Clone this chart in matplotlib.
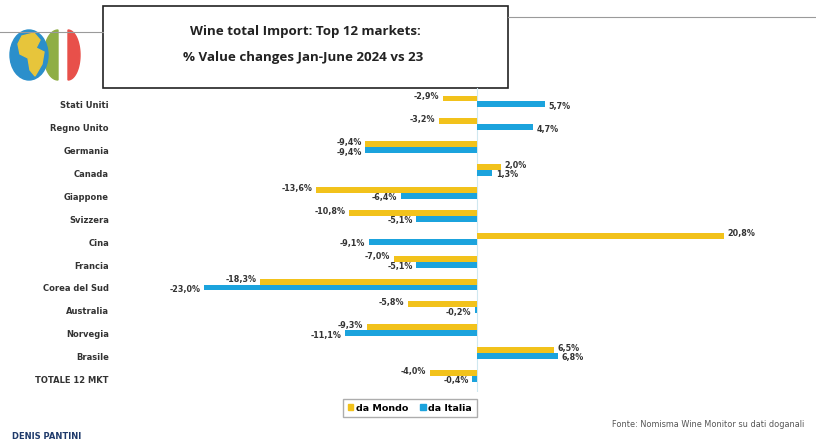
import matplotlib.pyplot as plt
import matplotlib.patches as mpatches
from matplotlib.patches import Rectangle, Ellipse, Polygon
import numpy as np

cats = ["Stati Uniti", "Regno Unito", "Germania", "Canada", "Giappone", "Svizzera",
        "Cina", "Francia", "Corea del Sud", "Australia", "Norvegia", "Brasile",
        "TOTALE 12 MKT"]
da_mondo = [-2.9, -3.2, -9.4, 2.0, -13.6, -10.8, 20.8, -7.0, -18.3, -5.8, -9.3, 6.5, -4.0]
da_italia = [5.7, 4.7, -9.4, 1.3, -6.4, -5.1, -9.1, -5.1, -23.0, -0.2, -11.1, 6.8, -0.4]

YEL = "#F2C21B"
BLU = "#1BA3DD"
W, H = 816, 444

fig = plt.figure(figsize=(W / 100, H / 100), dpi=100)

# decoration layer in pixel coordinates
bg = fig.add_axes([0, 0, 1, 1])
bg.set_xlim(0, W)
bg.set_ylim(H, 0)
bg.axis("off")

# header lines
bg.plot([0, 103], [32, 32], color="#9a9a9a", lw=0.8)
bg.plot([508, 816], [17, 17], color="#9a9a9a", lw=0.8)

# logo: globe + green and red half ellipses
t = np.linspace(-np.pi / 2, np.pi / 2, 40)
bg.add_patch(Polygon(np.c_[58 - 14 * np.cos(t), 55 + 25 * np.sin(t)], color="#8FAE45"))
bg.add_patch(Polygon(np.c_[68 + 12 * np.cos(t), 55 + 25 * np.sin(t)], color="#E8504A"))
bg.add_patch(Ellipse((29, 55), 38, 50, color="#2B8FCB"))
bg.add_patch(Polygon([(22, 36), (34, 33), (40, 40), (36, 48), (44, 52), (42, 64),
                      (35, 76), (30, 70), (28, 58), (20, 54), (18, 44)],
                     closed=True, color="#E7C53B"))

# title box
tfont = ["Liberation Sans Narrow", "Open Sans"]
bg.add_patch(Rectangle((103, 6), 405, 82, fill=False, ec="#222222", lw=1.2))
bg.text(305, 32, "Wine total Import: Top 12 markets:", ha="center", va="center",
        fontsize=9.6, fontweight="bold", family=tfont, color="#222222")
bg.text(303, 57, "% Value changes Jan-June 2024 vs 23", ha="center", va="center",
        fontsize=9.6, fontweight="bold", family=tfont, color="#222222")

# footer
bg.text(12, 436, "DENIS PANTINI", ha="left", va="center", fontsize=6,
        fontweight="bold", color="#1F3A6B")
bg.text(612, 424, "Fonte: Nomisma Wine Monitor su dati doganali", ha="left",
        va="center", fontsize=5.9, color="#555555")

# main chart
x0_px, zero_px, x1_px = 120, 477, 800
px_per = 11.87
top_px, bot_px = 88, 392
row0, row_step = 101.5, 22.875
ax = fig.add_axes([x0_px / W, 1 - bot_px / H, (x1_px - x0_px) / W, (bot_px - top_px) / H])
ax.patch.set_alpha(0)
ax.set_xlim(-(zero_px - x0_px) / px_per, (x1_px - zero_px) / px_per)
ax.set_ylim(12 + (bot_px - 376) / row_step, -(row0 - top_px) / row_step)

y = np.arange(len(cats))
h = 0.26
ax.barh(y - h / 2, da_mondo, height=h, color=YEL, label="da Mondo")
ax.barh(y + h / 2, da_italia, height=h, color=BLU, label="da Italia")
ax.axvline(0, color="#cfe8f0", lw=0.8, zorder=0)

def fmt(v):
    return f"{v:.1f}%".replace(".", ",")

for i in range(len(cats)):
    for v, dy in ((da_mondo[i], -h / 2 - 0.08), (da_italia[i], h / 2 + 0.08)):
        off = 0.3 if v >= 0 else -0.3
        ax.text(v + off, i + dy, fmt(v), ha="left" if v >= 0 else "right",
                va="center", fontsize=5.8, fontweight="bold", color="#333333")

ax.set_yticks(y + 0.15)
ax.set_yticklabels(cats, fontsize=6, fontweight="bold", color="#333333")
ax.tick_params(axis="y", length=0, pad=8)
ax.set_xticks([])
for s in ax.spines.values():
    s.set_visible(False)

fig.legend(handles=[mpatches.Patch(color=YEL, label="da Mondo"),
                    mpatches.Patch(color=BLU, label="da Italia")],
           loc="center", bbox_to_anchor=(410 / W, 1 - 408 / H), ncol=2,
           frameon=True, fancybox=False, edgecolor="#999999",
           handlelength=0.6, handleheight=0.6, handletextpad=0.3, columnspacing=1.2,
           borderpad=0.5, prop={"weight": "bold", "size": 6.8})

fig.savefig("out.png", dpi=100)
